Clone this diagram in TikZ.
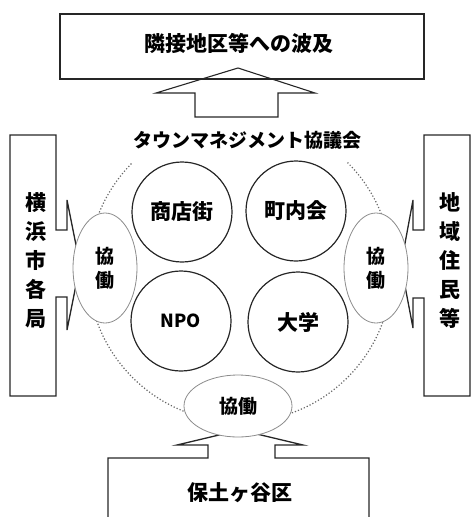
\documentclass[tikz,border=0pt]{standalone}
\usepackage{fontspec}
\setmainfont{Noto Sans CJK JP}
\usetikzlibrary{shapes.geometric}
\begin{document}
\begin{tikzpicture}[x=1pt,y=-1pt,
  boxline/.style={draw=black!85,line width=1.3pt,line join=miter},
  member/.style={circle,draw=black!85,line width=1.2pt,minimum size=100pt,inner sep=0pt,font=\fontsize{21}{24}\selectfont\bfseries},
  kyodo/.style={ellipse,draw=black!45,line width=0.8pt,fill=white,inner sep=0pt,align=center,font=\fontsize{19}{24}\selectfont\bfseries},
  vtext/.style={align=center,inner sep=0pt,font=\fontsize{21}{29}\selectfont\bfseries},
  label/.style={inner sep=1pt,font=\fontsize{21}{24}\selectfont\bfseries},
]
\useasboundingbox (0,0) rectangle (475,517);
% dotted big circle
\draw[black!60,line width=1.2pt,dotted] (240,270) ++(-45:152) arc[start angle=-45,end angle=225,radius=152];
% top box
\draw[boxline] (60,14) rectangle (424,79);
\node[label] (top) at (239,43) {隣接地区等への波及};
% top arrow
\draw[boxline,line width=1.1pt] (195,117) -- (195,93) -- (156,93) -- (238,68) -- (315,93) -- (278,93) -- (278,117) -- cycle;
% title
\node[label,fill=white,font=\fontsize{19}{22}\selectfont\bfseries] (title) at (247,140) {タウンマネジメント協議会};
% left box with arrow
\draw[boxline] (56,230) -- (56,135) -- (10,135) -- (10,396) -- (56,396) -- (56,297) -- (67,297) -- (67,330) -- (80,265) -- (67,200) -- (67,230) -- cycle;
% right box with arrow
\draw[boxline] (424,230) -- (424,135) -- (470,135) -- (470,396) -- (424,396) -- (424,298) -- (413,298) -- (413,328) -- (401,265) -- (413,200) -- (413,230) -- cycle;
% bottom box with arrow
\draw[boxline] (208,458) -- (108,458) -- (108,540) -- (369,540) -- (369,458) -- (275,458) -- (275,445) -- (303,445) -- (240,430) -- (177,445) -- (208,445) -- cycle;
% ellipses
\node[kyodo,minimum width=64pt,minimum height=110pt] (kl) at (105,268) {協\\働};
\node[kyodo,minimum width=64pt,minimum height=110pt] (kr) at (376,268) {協\\働};
\node[kyodo,minimum width=108pt,minimum height=62pt] (kb) at (238,406) {協働};
% member circles
\node[member] (shoten) at (182,212) {商店街};
\node[member] (chonai) at (296,211) {町内会};
\node[member,font=\fontsize{18}{20}\selectfont\bfseries] (npo) at (181,321) {NPO};
\node[member] (daigaku) at (298,322) {大学};
% side texts
\node[vtext] (yoko) at (36,261) {横\\浜\\市\\各\\局};
\node[vtext] (chiiki) at (450,261) {地\\域\\住\\民\\等};
\node[label] (hodo) at (240,493) {保土ヶ谷区};
\end{tikzpicture}
\end{document}
